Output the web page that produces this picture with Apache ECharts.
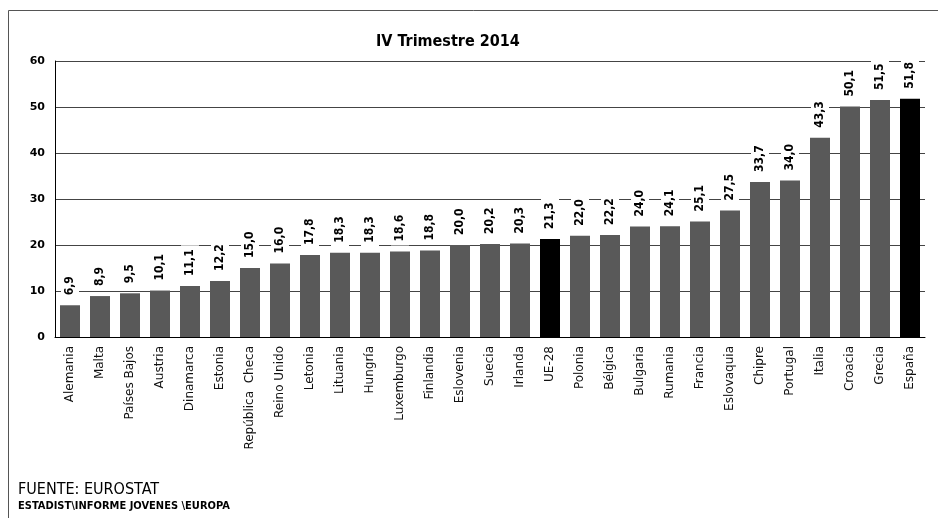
<!DOCTYPE html>
<html>
<head>
<meta charset="utf-8">
<script src="https://cdn.jsdelivr.net/npm/echarts@6/dist/echarts.min.js"></script>
<style>
    html, body { margin: 0; padding: 0; background: #fff; }
    #chart { width: 938px; height: 518px; }
</style>
</head>
<body>
<div id="chart"></div>
<script>
    // datos
    var paises = ['Alemania', 'Malta', 'Países Bajos', 'Austria', 'Dinamarca', 'Estonia', 'República  Checa',
        'Reino Unido', 'Letonia', 'Lituania', 'Hungría', 'Luxemburgo', 'Finlandia', 'Eslovenia', 'Suecia',
        'Irlanda', 'UE-28', 'Polonia', 'Bélgica', 'Bulgaria', 'Rumania', 'Francia', 'Eslovaquia', 'Chipre',
        'Portugal', 'Italia', 'Croacia', 'Grecia', 'España'];
    var valores = [6.9, 8.9, 9.5, 10.1, 11.1, 12.2, 15.0, 16.0, 17.8, 18.3, 18.3, 18.6, 18.8, 20.0, 20.2,
        20.3, 21.3, 22.0, 22.2, 24.0, 24.1, 25.1, 27.5, 33.7, 34.0, 43.3, 50.1, 51.5, 51.8];
    var destacados = ['UE-28', 'España'];
    var yTicks = [0, 10, 20, 30, 40, 50, 60];

    var myChart = echarts.init(document.getElementById('chart'));

    var option = {
        backgroundColor: '#fff',
        animation: false,
        title: {
            text: 'IV Trimestre 2014',
            left: 371,
            top: 29,
            textStyle: { fontFamily: 'DejaVu Sans Condensed', fontWeight: 'bold', fontSize: 16, color: '#000' }
        },
        grid: { left: 55, right: 13, top: 61, bottom: 181 },
        xAxis: {
            type: 'category',
            data: paises,
            axisTick: { show: false },
            axisLine: { lineStyle: { color: '#000', width: 1 } },
            axisLabel: {
                interval: 0,
                rotate: 90,
                margin: 9,
                color: '#111',
                fontFamily: 'DejaVu Sans',
                fontSize: 12
            }
        },
        yAxis: {
            type: 'value',
            min: yTicks[0],
            max: yTicks[yTicks.length - 1],
            interval: 10,
            axisLine: { show: true, lineStyle: { color: '#000', width: 1 } },
            axisTick: { show: false },
            splitLine: { lineStyle: { color: '#444', width: 1 } },
            axisLabel: {
                color: '#000',
                fontFamily: 'DejaVu Sans',
                fontWeight: 'bold',
                fontSize: 11,
                margin: 10
            }
        },
        series: [{
            type: 'bar',
            data: valores,
            barWidth: 20,
            itemStyle: {
                color: function (p) {
                    return destacados.indexOf(paises[p.dataIndex]) >= 0 ? '#000' : '#595959';
                }
            },
            label: {
                show: true,
                position: 'top',
                rotate: 90,
                align: 'left',
                verticalAlign: 'middle',
                distance: 6,
                color: '#000',
                fontFamily: 'DejaVu Sans Condensed',
                fontWeight: 'bold',
                fontSize: 12,
                backgroundColor: '#fff',
                padding: [3, 4],
                formatter: function (p) {
                    return p.value.toFixed(1).replace('.', ',');
                }
            }
        }],
        graphic: [
            {
                type: 'rect',
                shape: { x: 8.5, y: 10.5, width: 940, height: 520 },
                style: { fill: null, stroke: '#555', lineWidth: 1 },
                z: -1
            },
            {
                type: 'text',
                left: 18,
                top: 482,
                style: { text: 'FUENTE: EUROSTAT', fontFamily: 'DejaVu Sans Condensed', fontSize: 16, fill: '#000' }
            },
            {
                type: 'text',
                left: 18,
                top: 501,
                style: { text: 'ESTADIST\\INFORME JOVENES \\EUROPA', fontFamily: 'DejaVu Sans Condensed', fontWeight: 'bold', fontSize: 11, fill: '#000' }
            }
        ]
    };

    myChart.setOption(option);
</script>
</body>
</html>
